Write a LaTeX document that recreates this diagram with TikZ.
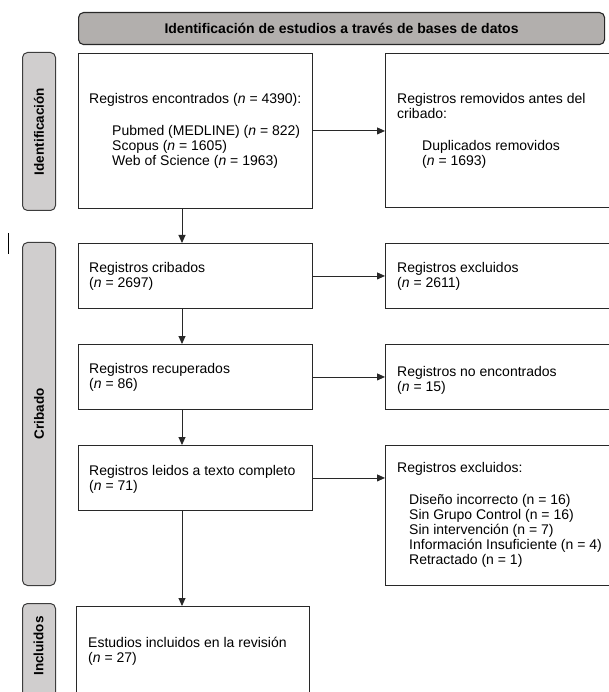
\documentclass[tikz,border=0pt]{standalone}
\usepackage{fontspec}
\setmainfont{Liberation Sans}
\usetikzlibrary{arrows.meta}
\definecolor{hdrgray}{RGB}{178,175,173}
\definecolor{labgray}{RGB}{208,206,206}
\definecolor{edgecol}{RGB}{40,40,40}
\begin{document}
\begin{tikzpicture}[x=1pt,y=-1pt,
  box/.style={draw=edgecol,line width=0.9pt,rectangle,anchor=north west,inner sep=0pt},
  hdr/.style={draw=edgecol,line width=1.1pt,fill=hdrgray,rounded corners=5pt,rectangle,anchor=north west,inner sep=0pt},
  lab/.style={draw=edgecol!90,line width=1pt,fill=labgray,rounded corners=5pt,rectangle,anchor=north west,inner sep=0pt},
  labtxt/.style={rotate=90,inner sep=0pt,font=\fontsize{13.5}{15}\selectfont\bfseries},
  txt/.style={anchor=north west,inner sep=0pt,align=left,font=\fontsize{14}{15}\selectfont},
  arr/.style={draw=edgecol,line width=0.9pt,-{Triangle[length=8pt,width=7pt]}}]
\useasboundingbox (0,0) rectangle (608,692);
% header
\node[hdr,minimum width=526pt,minimum height=32pt] (hd) at (78,12) {};
\node[inner sep=0pt,font=\fontsize{14}{15}\selectfont\bfseries] (hdt) at (hd.center) {Identificación de estudios a través de bases de datos};
% side labels
\node[lab,minimum width=33pt,minimum height=158pt] (l1) at (22,52) {};
\node[labtxt] (l1t) at (l1.center) {Identificación};
\node[lab,minimum width=33pt,minimum height=343pt] (l2) at (22,242) {};
\node[labtxt] (l2t) at (l2.center) {Cribado};
\node[lab,minimum width=33pt,minimum height=110pt] (l3) at (22,603) {};
\node[labtxt] (l3t) at (38.5,646) {Incluidos};
% stray mark
\coordinate (m1) at (8,233);
\coordinate (m2) at (8,254);
\draw[line width=0.8pt] (m1) -- (m2);
% left boxes
\node[box,minimum width=234pt,minimum height=155pt] (b1) at (78,53) {};
\node[box,minimum width=234pt,minimum height=65pt] (b2) at (78,243) {};
\node[box,minimum width=234pt,minimum height=65pt] (b3) at (78,344) {};
\node[box,minimum width=234pt,minimum height=65pt] (b4) at (78,445) {};
\node[box,minimum width=233pt,minimum height=100pt] (b5) at (76,606) {};
% right boxes
\node[box,minimum width=235pt,minimum height=154pt] (r1) at (385,53) {};
\node[box,minimum width=235pt,minimum height=65pt] (r2) at (385,243) {};
\node[box,minimum width=235pt,minimum height=65pt] (r3) at (385,344) {};
\node[box,minimum width=235pt,minimum height=140pt] (r4) at (385,445) {};
% texts
\node[txt] (t1) at (89,93) {Registros encontrados (\textit{n} = 4390):\\[17pt]
\hspace*{23pt}Pubmed (MEDLINE) (\textit{n} = 822)\\
\hspace*{23pt}Scopus (\textit{n} = 1605)\\
\hspace*{23pt}Web of Science (\textit{n} = 1963)};
\node[txt] (tr1) at (397,93) {Registros removidos antes del\\cribado:\\[17pt]
\hspace*{25pt}Duplicados removidos\\
\hspace*{25pt}(\textit{n} = 1693)};
\node[txt] (t2) at (89,262) {Registros cribados\\(\textit{n} = 2697)};
\node[txt] (tr2) at (397,262) {Registros excluidos\\(\textit{n} = 2611)};
\node[txt] (t3) at (89,363) {Registros recuperados\\(\textit{n} = 86)};
\node[txt] (tr3) at (397,366) {Registros no encontrados\\(\textit{n} = 15)};
\node[txt] (t4) at (89,465) {Registros leidos a texto completo\\(\textit{n} = 71)};
\node[txt] (tr4) at (397,462) {Registros excluidos:\\[17pt]
\hspace*{12pt}Diseño incorrecto (n = 16)\\
\hspace*{12pt}Sin Grupo Control (n = 16)\\
\hspace*{12pt}Sin intervención (n = 7)\\
\hspace*{12pt}Información Insuficiente (n = 4)\\
\hspace*{12pt}Retractado (n = 1)};
\node[txt] (t5) at (88,637) {Estudios incluidos en la revisión\\(\textit{n} = 27)};
% connectors
\coordinate (ax) at (182,0);
\draw[arr] (b1.east) -- (b1.east -| r1.west);
\draw[arr] (b2.east) -- (b2.east -| r2.west);
\draw[arr] (b3.east) -- (b3.east -| r3.west);
\draw[arr] (b4.east) -- (b4.east -| r4.west);
\draw[arr] (b1.south -| ax) -- (b2.north -| ax);
\draw[arr] (b2.south -| ax) -- (b3.north -| ax);
\draw[arr] (b3.south -| ax) -- (b4.north -| ax);
\draw[arr] (b4.south -| ax) -- (b5.north -| ax);
\end{tikzpicture}
\end{document}
